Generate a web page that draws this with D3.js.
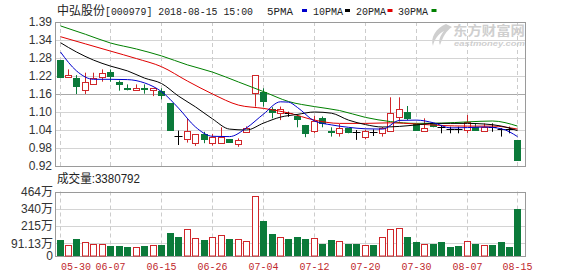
<!DOCTYPE html>
<html>
<head>
<meta charset="utf-8">
<script src="https://cdn.jsdelivr.net/npm/d3@7"></script>
<style>
  body { margin: 0; background: #fff; }
  svg text { font-family: "Liberation Sans", "Noto Sans CJK SC", sans-serif; }
</style>
</head>
<body>
<div id="chart"></div>
<script>
// trading days shown (2018)
const dates = ["05-30","05-31","06-01","06-04","06-05","06-06","06-07","06-08","06-11","06-12",
  "06-13","06-14","06-15","06-19","06-20","06-21","06-22","06-25","06-26","06-27",
  "06-28","06-29","07-02","07-03","07-04","07-05","07-06","07-09","07-10","07-11",
  "07-12","07-13","07-16","07-17","07-18","07-19","07-20","07-23","07-24","07-25",
  "07-26","07-27","07-30","07-31","08-01","08-02","08-03","08-06","08-07","08-08",
  "08-09","08-10","08-13","08-14","08-15"];

const open  = [1.273,1.218,1.212,1.173,1.193,1.216,1.232,1.201,1.179,1.172,
  1.179,1.172,1.170,1.129,1.020,1.009,0.998,1.027,0.998,0.998,
  1.009,0.993,1.035,1.162,1.168,1.109,1.098,1.098,1.087,1.057,
  1.038,1.079,1.037,1.029,1.046,1.033,1.018,1.034,1.029,1.036,
  1.082,1.099,1.060,1.038,1.060,1.049,1.042,1.042,1.040,1.051,
  1.038,1.049,1.042,1.042,1.007];
const high  = [1.273,1.242,1.223,1.231,1.231,1.242,1.242,1.205,1.192,1.192,
  1.192,1.179,1.179,1.129,1.038,1.079,1.026,1.034,1.027,1.049,
  1.009,1.012,1.052,1.222,1.179,1.116,1.118,1.101,1.093,1.057,
  1.087,1.085,1.049,1.060,1.046,1.040,1.040,1.042,1.050,1.149,
  1.149,1.120,1.060,1.079,1.062,1.057,1.051,1.051,1.090,1.062,
  1.062,1.062,1.046,1.051,1.007];
const low   = [1.214,1.218,1.160,1.160,1.193,1.201,1.201,1.171,1.172,1.172,
  1.161,1.153,1.142,1.038,0.990,0.998,0.987,0.996,0.988,0.998,
  0.998,0.984,1.030,1.118,1.118,1.079,1.073,1.084,1.049,1.016,
  1.029,1.049,1.018,1.018,1.029,1.007,1.009,1.020,1.018,1.036,
  1.068,1.073,1.038,1.038,1.049,1.029,1.029,1.029,1.029,1.038,
  1.038,1.034,1.018,1.029,0.937];
const close = [1.214,1.224,1.183,1.201,1.212,1.231,1.216,1.191,1.172,1.179,
  1.172,1.179,1.153,1.038,1.020,1.037,1.026,1.007,1.016,1.016,
  0.998,1.007,1.048,1.222,1.134,1.098,1.109,1.098,1.073,1.027,
  1.071,1.060,1.029,1.046,1.029,1.033,1.038,1.034,1.046,1.098,
  1.109,1.077,1.038,1.046,1.049,1.049,1.042,1.042,1.068,1.038,
  1.051,1.049,1.042,1.042,0.937];
// volume in 万 (10k) shares
const volume = [115,79,122,103,84,84,72,72,65,65,
  72,79,79,166,137,194,130,115,135,149,
  122,122,108,430,252,158,135,122,137,122,
  127,86,115,106,86,86,79,79,135,194,
  202,139,101,86,86,101,67,72,106,86,
  79,79,101,65,338.0792];

// moving averages (day index, price)
const ma5Days  = [0,2,4,6,8,10,12,14,16,18,20,22,24,26,27,28,30,32,34,36,38,40,42,44,46,48,50,52,54];
const ma5      = [1.300,1.237,1.209,1.209,1.208,1.197,1.168,1.113,1.050,1.019,1.018,1.047,1.093,1.134,1.133,1.115,1.070,1.057,1.049,1.044,1.043,1.072,1.073,1.064,1.047,1.048,1.050,1.044,1.018];
const ma10Days = [0,2,4,6,8,10,12,14,16,18,20,22,24,26,28,30,32,34,36,38,40,42,44,46,48,50,52,54];
const ma10     = [1.331,1.300,1.273,1.253,1.237,1.213,1.195,1.153,1.117,1.077,1.043,1.040,1.063,1.083,1.092,1.100,1.096,1.073,1.058,1.050,1.052,1.057,1.062,1.062,1.062,1.060,1.053,1.038];
const ma20Days = [0,3,6,9,12,15,18,21,24,27,30,33,36,39,42,45,48,51,54];
const ma20     = [1.351,1.327,1.303,1.278,1.251,1.203,1.160,1.123,1.112,1.097,1.073,1.062,1.062,1.064,1.060,1.055,1.053,1.053,1.043];
const ma30Days = [0,3,6,9,12,15,18,21,24,27,30,33,36,39,42,45,48,51,54];
const ma30     = [1.387,1.359,1.330,1.310,1.287,1.257,1.233,1.200,1.168,1.135,1.118,1.105,1.082,1.068,1.062,1.063,1.067,1.070,1.053];

const priceTicks = [0.92,0.98,1.04,1.10,1.16,1.22,1.28,1.34,1.40];
const priceTickLabels = ["0.92","0.98","1.04","1.10","1.16","1.22","1.28","1.34","1.39"];
const volTicks = [0,91.13,215,340,464];
const volTickLabels = ["0","91.13万","215万","340万","464万"];
const xTicks = ["05-30","06-07","06-15","06-26","07-04","07-12","07-20","07-30","08-07","08-15"];

const maNames = ["5PMA","10PMA","20PMA","30PMA"];
const maColors = ["#0000cc","#000000","#e00000","#008000"];

const RED = "#d0262a", GREEN = "#0b7a3a";

const svg = d3.select("#chart").append("svg")
    .attr("width", 578)
    .attr("height", 276);

const left = 55, right = 525.5;
const pTop = 22, pBottom = 166;
const vTop = 191.5, vBottom = 256;

const x = d3.scaleBand().domain(dates).range([54, 523]).padding(0.3);
const cx = d => Math.round(x(d) + x.bandwidth() / 2);
const y = d3.scaleLinear().domain([0.92, 1.40]).range([pBottom, pTop]);
const yv = d3.scaleLinear().domain([0, 464]).range([vBottom, vTop]);

// watermark
const wm = svg.append("g").attr("fill", "#cfcfcf");
wm.append("path")
    .attr("d", "M446,24 C436,28 430,38 433,46 C434,40 438,34 444,31 C440,36 438,41 440,45 C443,37 446,31 452,27 Z");
wm.append("text").attr("x", 453).attr("y", 35).attr("font-size", 13).attr("font-weight", "bold")
    .attr("textLength", 72).attr("lengthAdjust", "spacingAndGlyphs").text("东方财富网");
wm.append("text").attr("x", 454).attr("y", 46).attr("font-size", 8).attr("font-weight", "bold")
    .attr("font-style", "italic").attr("textLength", 71).attr("lengthAdjust", "spacingAndGlyphs")
    .text("eastmoney.com");

// horizontal grid, price panel
svg.append("g").selectAll("line")
    .data(priceTicks.slice(1, -1))
    .enter().append("line")
    .attr("x1", left).attr("x2", right)
    .attr("y1", d => Math.round(y(d)) + 0.5).attr("y2", d => Math.round(y(d)) + 0.5)
    .attr("stroke", d => d === 1.16 ? "#a8a8a8" : "#d4d4d4");

// horizontal grid, volume panel
svg.append("g").selectAll("line")
    .data(volTicks.slice(1, -1))
    .enter().append("line")
    .attr("x1", left).attr("x2", right)
    .attr("y1", d => Math.round(yv(d)) + 0.5).attr("y2", d => Math.round(yv(d)) + 0.5)
    .attr("stroke", "#d4d4d4");

// vertical dashed grid in both panels
[[pTop, pBottom], [vTop, vBottom]].forEach(([t, b]) => {
    svg.append("g").selectAll("line")
        .data(xTicks)
        .enter().append("line")
        .attr("x1", d => cx(d) + 0.5).attr("x2", d => cx(d) + 0.5)
        .attr("y1", t).attr("y2", b)
        .attr("stroke", "#cccccc")
        .attr("stroke-dasharray", "4,3");
});

// panel borders
[[pTop, pBottom], [vTop, vBottom]].forEach(([t, b]) => {
    svg.append("rect")
        .attr("x", left + 0.5).attr("y", Math.round(t) + 0.5)
        .attr("width", right - left - 0.5).attr("height", Math.round(b) - Math.round(t))
        .attr("fill", "none").attr("stroke", "#9a9a9a");
});

// candles
const candles = dates.map((d, i) => ({date: d, o: open[i], h: high[i], l: low[i], c: close[i], v: volume[i]}));
const cg = svg.append("g");
candles.forEach(k => {
    const px = cx(k.date) + 0.5;
    const col = k.c > k.o ? RED : (k.c < k.o ? GREEN : "#000");
    cg.append("line")
        .attr("x1", px).attr("x2", px)
        .attr("y1", y(k.h)).attr("y2", y(k.l))
        .attr("stroke", col);
    if (k.c === k.o) {
        cg.append("line")
            .attr("x1", px - 4).attr("x2", px + 4)
            .attr("y1", Math.round(y(k.o)) + 0.5).attr("y2", Math.round(y(k.o)) + 0.5)
            .attr("stroke", "#000");
    } else if (k.c > k.o) {
        const t = Math.round(y(k.c)), b = Math.round(y(k.o));
        cg.append("rect")
            .attr("x", px - 3).attr("y", t + 0.5)
            .attr("width", 6).attr("height", Math.max(1, b - t))
            .attr("fill", "#fff").attr("stroke", RED);
    } else {
        const t = Math.round(y(k.o)), b = Math.round(y(k.c));
        cg.append("rect")
            .attr("x", px - 3.5).attr("y", t)
            .attr("width", 7).attr("height", Math.max(1, b - t))
            .attr("fill", GREEN);
    }
});

// moving average lines
const line = d3.line()
    .x(p => cx(dates[p[0]]) + 0.5)
    .y(p => y(p[1]))
    .curve(d3.curveMonotoneX);
[[ma30Days, ma30], [ma20Days, ma20], [ma10Days, ma10], [ma5Days, ma5]].forEach(([days, vals], j) => {
    svg.append("path")
        .datum(days.map((dd, i) => [dd, vals[i]]))
        .attr("d", line)
        .attr("fill", "none")
        .attr("stroke", maColors[3 - j])
        .attr("stroke-width", 1);
});

// volume bars
const vg = svg.append("g");
candles.forEach(k => {
    const px = cx(k.date) + 0.5;
    const t = Math.round(yv(k.v));
    if (k.c > k.o) {
        vg.append("rect")
            .attr("x", px - 3).attr("y", t + 0.5)
            .attr("width", 6).attr("height", vBottom - t - 0.5)
            .attr("fill", "#fff").attr("stroke", RED);
    } else {
        vg.append("rect")
            .attr("x", px - 3.5).attr("y", t)
            .attr("width", 7).attr("height", vBottom - t)
            .attr("fill", GREEN);
    }
});

// price axis labels
svg.append("g").selectAll("text")
    .data(priceTicks)
    .enter().append("text")
    .attr("x", 52).attr("y", d => y(d)).attr("dy", "0.36em")
    .attr("text-anchor", "end").attr("font-size", 12).attr("fill", "#333")
    .text((d, i) => priceTickLabels[i]);

// volume axis labels
svg.append("g").selectAll("text")
    .data(volTicks)
    .enter().append("text")
    .attr("x", 53).attr("y", d => yv(d)).attr("dy", "0.36em")
    .attr("text-anchor", "end").attr("font-size", 12).attr("fill", "#333")
    .text((d, i) => volTickLabels[i]);

// date labels
svg.append("g").selectAll("text")
    .data(xTicks)
    .enter().append("text")
    .attr("x", (d, i) => i === 0 ? cx(d) + 1 : cx(d) + 0.5)
    .attr("y", 270)
    .attr("text-anchor", (d, i) => i === 0 ? "start" : "middle")
    .attr("font-size", 11.5).attr("fill", "#c0282c")
    .style("font-family", "'Liberation Mono', monospace")
    .attr("textLength", 30).attr("lengthAdjust", "spacingAndGlyphs")
    .text(d => d);

// header: stock name, then code and time
svg.append("text")
    .attr("x", 57).attr("y", 15)
    .attr("font-size", 12).attr("fill", "#222")
    .style("font-family", "'Noto Sans CJK SC', sans-serif")
    .attr("textLength", 48).attr("lengthAdjust", "spacingAndGlyphs")
    .text("中弘股份");
svg.append("text")
    .attr("x", 105).attr("y", 15)
    .attr("font-size", 10.5).attr("fill", "#222")
    .style("font-family", "'Liberation Mono', monospace")
    .attr("textLength", 148).attr("lengthAdjust", "spacingAndGlyphs")
    .text("[000979] 2018-08-15 15:00");

// legend
const legX = [267, 313, 356, 398];
const legW = [26, 30, 30, 30];
const legMark = [302, 345, 387.5, 431.5];
maNames.forEach((n, i) => {
    svg.append("text")
        .attr("x", legX[i]).attr("y", 15)
        .attr("font-size", 10.5).attr("fill", "#222")
        .style("font-family", "'Liberation Mono', monospace")
        .attr("textLength", legW[i]).attr("lengthAdjust", "spacingAndGlyphs")
        .text(n);
    svg.append("rect")
        .attr("x", legMark[i]).attr("y", 9)
        .attr("width", 5).attr("height", 3)
        .attr("fill", maColors[i]);
});

// volume title
svg.append("text")
    .attr("x", 57).attr("y", 183)
    .attr("font-size", 12).attr("fill", "#222")
    .attr("textLength", 83).attr("lengthAdjust", "spacingAndGlyphs")
    .text("成交量:" + Math.round(volume[volume.length - 1] * 10000));
</script>
</body>
</html>
